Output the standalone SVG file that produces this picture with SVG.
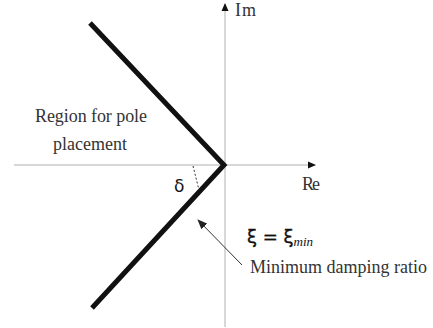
<svg xmlns="http://www.w3.org/2000/svg" width="433" height="328" viewBox="0 0 433 328">
<style>
.axis{stroke:#b0b0b0;stroke-width:1;fill:none}
.bound{stroke:#111;stroke-width:5;fill:none;stroke-linejoin:miter}
.lbl{font-family:"Liberation Serif","DejaVu Serif",serif;font-size:18px;fill:#333}
.sans{font-family:"DejaVu Sans","Liberation Sans",sans-serif;fill:#111}
</style>
<defs>
<marker id="ah" markerWidth="8" markerHeight="8" refX="7" refY="4" orient="auto" markerUnits="userSpaceOnUse">
<path d="M0,0.5 L8,4 L0,7.5 Z" fill="#111"/>
</marker>
<marker id="ah2" markerWidth="10" markerHeight="10" refX="9" refY="5" orient="auto" markerUnits="userSpaceOnUse">
<path d="M0,1 L10,5 L0,9 Z" fill="#222"/>
</marker>
</defs>
<g id="connectors">
<line id="re-axis" class="axis" x1="14" y1="165" x2="315" y2="165" marker-end="url(#ah)"/>
<line id="im-axis" class="axis" x1="225" y1="327" x2="225" y2="4" marker-end="url(#ah)"/>
<polyline id="boundary" class="bound" points="90,23 224,165 92,308"/>
<line id="delta-dash" x1="193" y1="166" x2="199" y2="190" stroke="#333" stroke-width="1" stroke-dasharray="2,2"/>
<line id="pointer" x1="242" y1="265" x2="198" y2="220" stroke="#333" stroke-width="1" marker-end="url(#ah2)"/>
</g>
<g id="im-label"><text class="lbl" x="235" y="16" textLength="21">Im</text></g>
<g id="re-label"><text class="lbl" x="302" y="190" textLength="18">Re</text></g>
<g id="region-label">
<text class="lbl" x="35" y="122" textLength="112">Region for pole</text>
<text class="lbl" x="53" y="150" textLength="74">placement</text>
</g>
<g id="delta-label"><text class="sans" x="174" y="192" font-size="17">δ</text></g>
<g id="xi-label"><text class="sans" x="247" y="243" font-size="18" stroke="#111" stroke-width="0.4">ξ = ξ<tspan font-family="Liberation Serif" stroke="none" font-style="italic" font-size="13" dy="3">min</tspan></text></g>
<g id="damping-label"><text class="lbl" x="250" y="273" textLength="177">Minimum damping ratio</text></g>
</svg>
